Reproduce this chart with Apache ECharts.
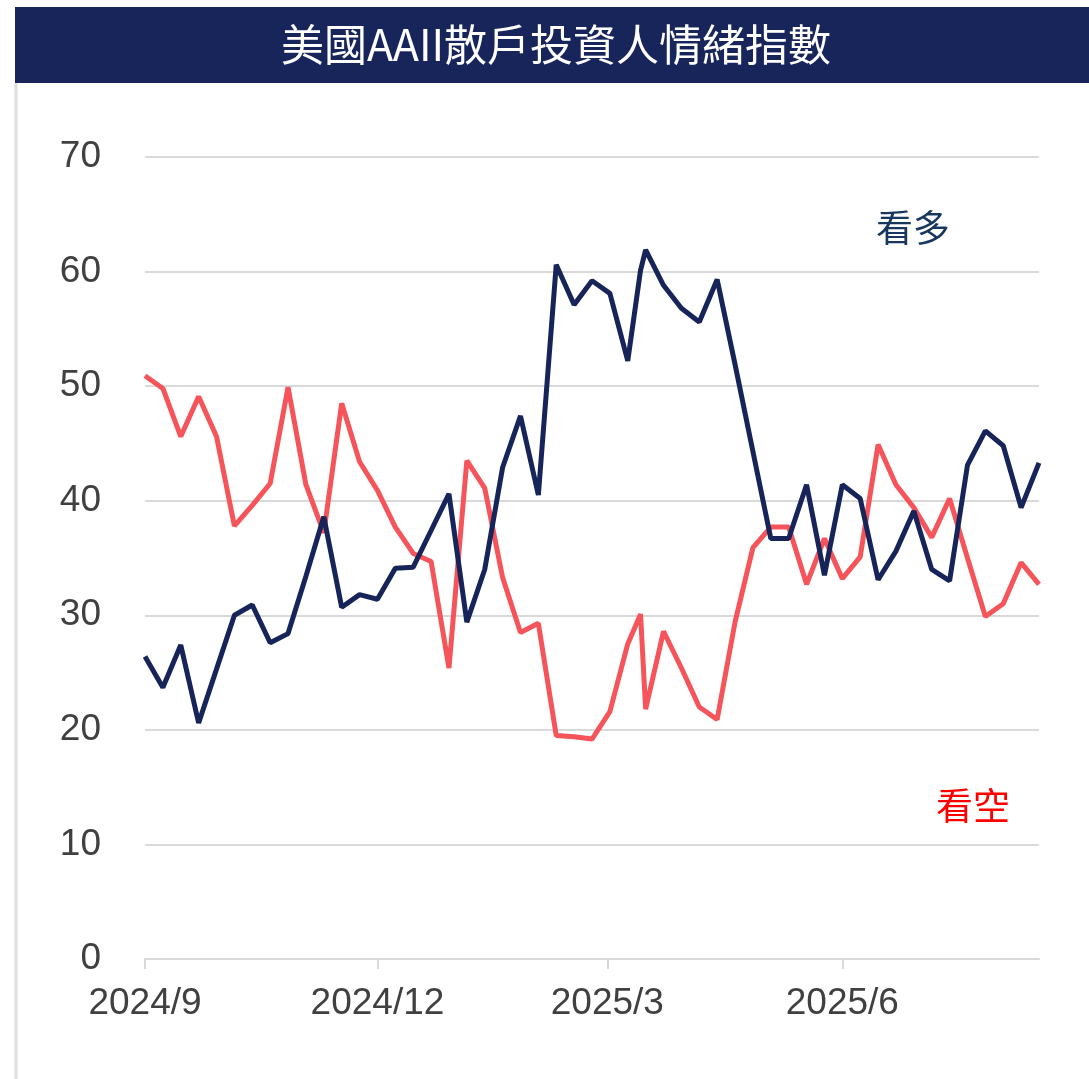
<!DOCTYPE html>
<html>
<head>
<meta charset="utf-8">
<script src="https://cdn.jsdelivr.net/npm/echarts@6/dist/echarts.min.js"></script>
<style>
  html, body { margin: 0; padding: 0; background: #fff; }
  #chart { width: 1089px; height: 1079px; }
</style>
</head>
<body>
<div id="chart"></div>
<script>
// weekly AAII survey readings (%)
var dates = [
  '2024-09-01', '2024-09-08', '2024-09-15', '2024-09-22', '2024-09-29',
  '2024-10-06', '2024-10-13', '2024-10-20', '2024-10-27', '2024-11-03',
  '2024-11-10', '2024-11-17', '2024-11-24', '2024-12-01', '2024-12-08',
  '2024-12-15', '2024-12-22', '2024-12-29', '2025-01-05', '2025-01-12',
  '2025-01-19', '2025-01-26', '2025-02-02', '2025-02-09', '2025-02-16',
  '2025-02-23', '2025-03-02', '2025-03-09', '2025-03-14', '2025-03-16',
  '2025-03-23', '2025-03-30', '2025-04-06', '2025-04-13', '2025-04-20',
  '2025-04-27', '2025-05-04', '2025-05-11', '2025-05-18', '2025-05-25',
  '2025-06-01', '2025-06-08', '2025-06-15', '2025-06-22', '2025-06-29',
  '2025-07-06', '2025-07-13', '2025-07-20', '2025-07-27', '2025-08-03',
  '2025-08-10', '2025-08-17'
];
var bullish = [
  26.4, 23.7, 27.4, 20.6, 25.3, 30.0, 30.9, 27.6, 28.4, 33.4,
  38.6, 30.7, 31.8, 31.4, 34.1, 34.2, 37.4, 40.6, 29.4, 34.0,
  42.9, 47.4, 40.5, 60.6, 57.1, 59.2, 58.1, 52.2, 60.1, 61.9,
  58.8, 56.8, 55.6, 59.3, 51.9, 44.3, 36.7, 36.7, 41.4, 33.5,
  41.4, 40.2, 33.1, 35.6, 39.1, 34.0, 33.0, 43.1, 46.1, 44.8,
  39.4, 43.3
];
var bearish = [
  50.9, 49.8, 45.6, 49.1, 45.6, 37.8, 39.6, 41.5, 49.9, 41.4,
  37.2, 48.5, 43.4, 40.9, 37.7, 35.4, 34.7, 25.4, 43.5, 41.1,
  33.3, 28.5, 29.3, 19.5, 19.4, 19.2, 21.6, 27.5, 30.1, 21.8,
  28.6, 25.4, 22.0, 20.9, 29.4, 35.9, 37.7, 37.7, 32.7, 36.7,
  33.2, 35.1, 44.9, 41.4, 39.4, 36.8, 40.2, 35.0, 29.9, 31.0,
  34.6, 32.7
];
var monthTicks = ['2024-09-01', '2024-12-01', '2025-03-01', '2025-06-01'];

var NAVY = '#16245a';
var RED = '#f5555a';

function toTime(s) {
  var p = s.split('-');
  return new Date(+p[0], +p[1] - 1, +p[2]).getTime();
}
function pairs(ys) {
  return dates.map(function (d, i) { return [toTime(d), ys[i]]; });
}
var tickTimes = monthTicks.map(toTime);

var chart = echarts.init(document.getElementById('chart'));
chart.setOption({
  animation: false,
  backgroundColor: '#fff',
  grid: { left: 145, right: 50, top: 157, bottom: 120 },
  xAxis: {
    type: 'value',
    min: toTime(dates[0]),
    max: toTime(dates[dates.length - 1]),
    axisLine: { show: true, lineStyle: { color: '#d9d9d9', width: 2 } },
    axisTick: { show: true, customValues: tickTimes, length: 10, lineStyle: { color: '#d9d9d9', width: 2 } },
    axisLabel: {
      customValues: tickTimes,
      margin: 26,
      fontSize: 37,
      color: '#404040',
      fontFamily: 'Liberation Sans, Arial, sans-serif',
      formatter: function (v) {
        var d = new Date(v);
        return d.getFullYear() + '/' + (d.getMonth() + 1);
      }
    },
    splitLine: { show: false }
  },
  yAxis: {
    type: 'value',
    min: 0,
    max: 70,
    interval: 10,
    axisLine: { show: false },
    axisTick: { show: false },
    axisLabel: {
      margin: 44,
      fontSize: 37,
      color: '#404040',
      fontFamily: 'Liberation Sans, Arial, sans-serif'
    },
    splitLine: { lineStyle: { color: '#d9d9d9', width: 2 } }
  },
  series: [
    {
      name: '看空',
      type: 'line',
      data: pairs(bearish),
      showSymbol: false,
      lineStyle: { color: RED, width: 5 },
      itemStyle: { color: RED }
    },
    {
      name: '看多',
      type: 'line',
      data: pairs(bullish),
      showSymbol: false,
      lineStyle: { color: NAVY, width: 5 },
      itemStyle: { color: NAVY }
    }
  ],
  graphic: [
    {
      type: 'rect',
      shape: { x: 15, y: 7, width: 1074, height: 76 },
      style: { fill: '#17255b' }
    },
    {
      type: 'text',
      x: 556, y: 45,
      style: {
        text: '美國AAII散戶投資人情緒指數',
        fill: '#fff',
        font: '43px "Noto Sans CJK TC", sans-serif',
        textAlign: 'center',
        textVerticalAlign: 'middle'
      }
    },
    {
      type: 'line',
      shape: { x1: 16, y1: 83, x2: 16, y2: 1079 },
      style: { stroke: '#dedede', lineWidth: 3 }
    },
    {
      type: 'text',
      x: 913, y: 228,
      style: {
        text: '看多',
        fill: '#17375e',
        font: '37px "Noto Sans CJK TC", sans-serif',
        textAlign: 'center',
        textVerticalAlign: 'middle'
      }
    },
    {
      type: 'text',
      x: 973, y: 806,
      style: {
        text: '看空',
        fill: '#ff0000',
        font: '37px "Noto Sans CJK TC", sans-serif',
        textAlign: 'center',
        textVerticalAlign: 'middle'
      }
    }
  ]
});
</script>
</body>
</html>
